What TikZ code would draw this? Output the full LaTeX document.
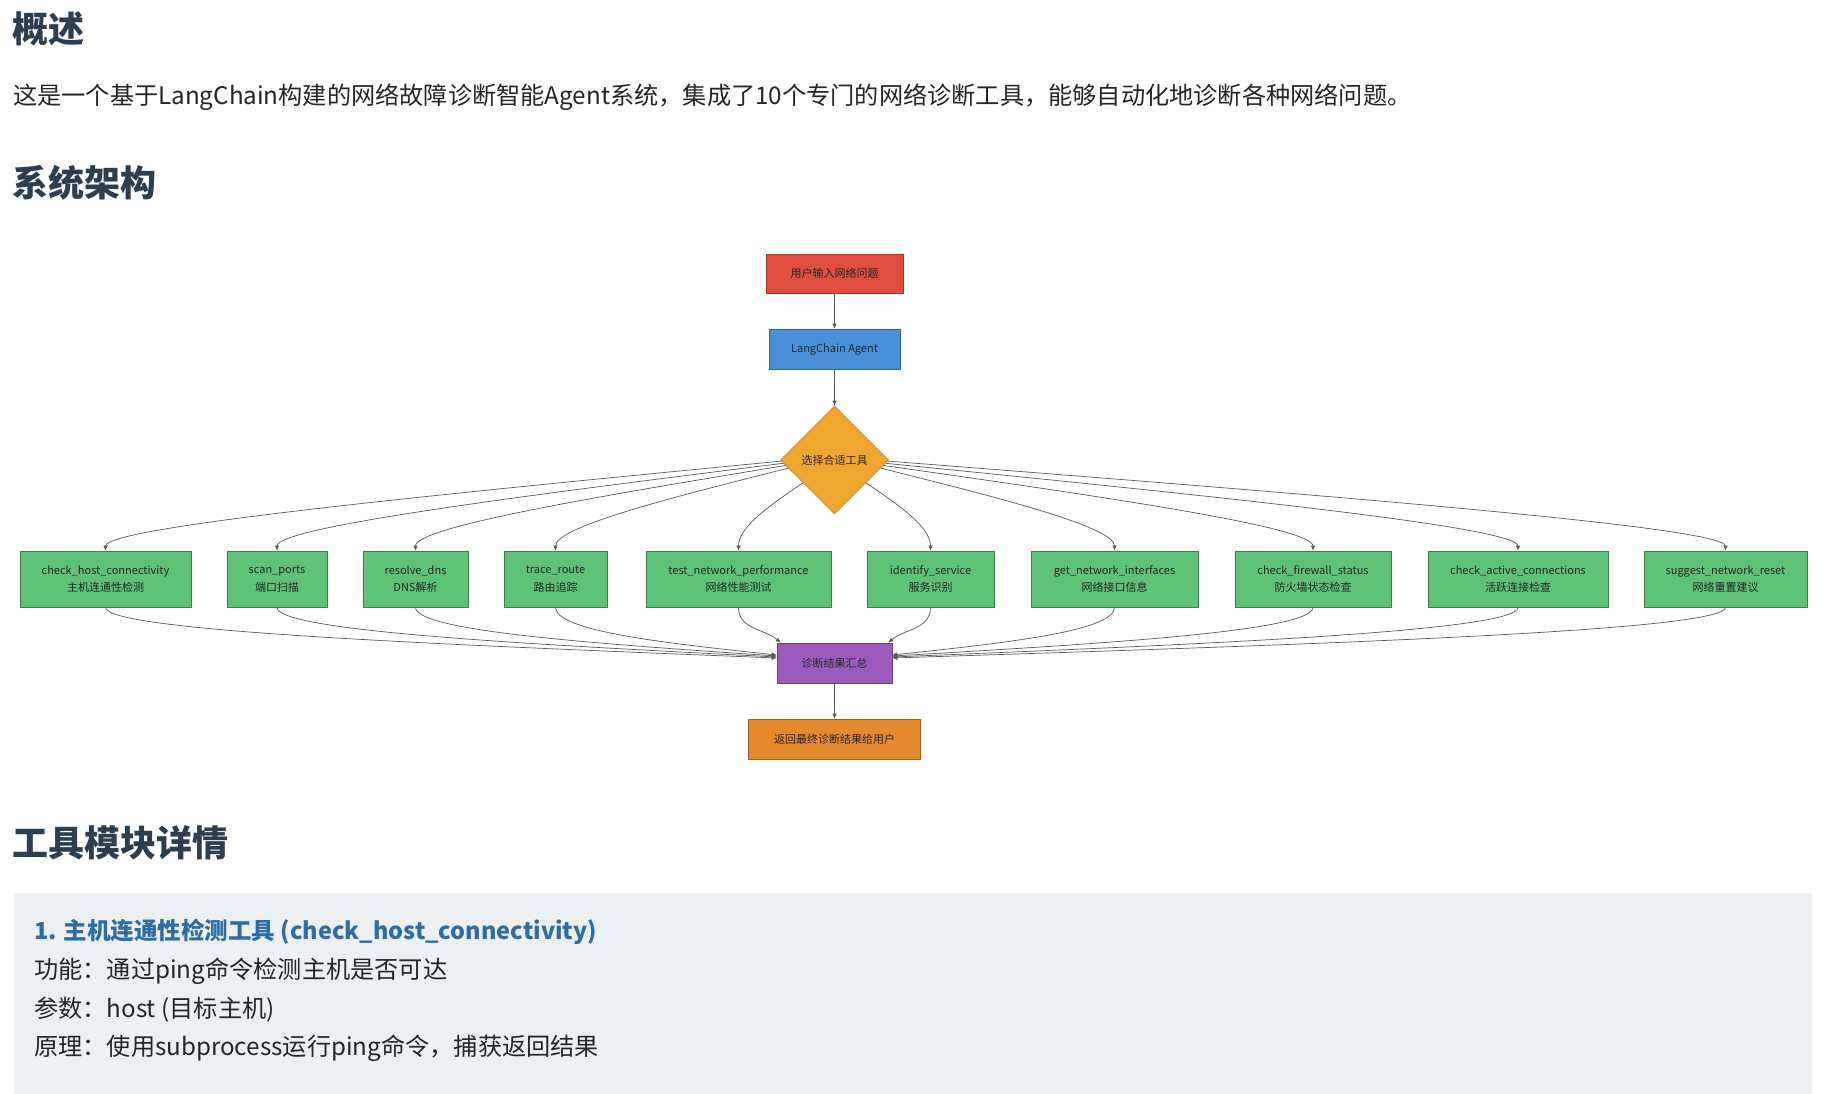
\documentclass[tikz,border=0pt]{standalone}
\usepackage{fontspec}
\setmainfont{Noto Sans CJK SC}
\usetikzlibrary{shapes.geometric,arrows.meta,calc}

\definecolor{headc}{HTML}{2C3E50}
\definecolor{textc}{HTML}{252525}
\definecolor{titlec}{HTML}{2E6DA4}
\definecolor{panelc}{HTML}{EDF0F3}
\definecolor{redc}{HTML}{E04E3F}
\definecolor{bluec}{HTML}{4A8FD9}
\definecolor{yellowc}{HTML}{F0A732}
\definecolor{greenc}{HTML}{5EC277}
\definecolor{purplec}{HTML}{9B5BBE}
\definecolor{orangec}{HTML}{E58A2E}

\tikzset{
  heading/.style={anchor=west, inner sep=0pt, text=headc, font=\fontsize{36}{42}\selectfont\bfseries},
  bodytext/.style={anchor=west, inner sep=0pt, text=textc, font=\fontsize{24.2}{29}\selectfont},
  nodebox/.style={draw, line width=0.6pt, inner sep=2pt, text=textc, align=center, font=\fontsize{11}{13}\selectfont},
  inbox/.style={nodebox, fill=redc, draw=redc!70!black, minimum width=137pt, minimum height=39pt},
  agentbox/.style={nodebox, fill=bluec, draw=bluec!70!black, minimum width=131pt, minimum height=40pt},
  decide/.style={nodebox, diamond, aspect=1, inner sep=0pt, fill=yellowc, draw=yellowc!80!black, minimum width=108pt, minimum height=108pt},
  toolbox/.style={nodebox, fill=greenc, draw=greenc!65!black, minimum height=56pt, font=\fontsize{11}{17.5}\selectfont},
  sumbox/.style={nodebox, fill=purplec, draw=purplec!70!black, minimum width=115pt, minimum height=40pt},
  outbox/.style={nodebox, fill=orangec, draw=orangec!70!black, minimum width=172pt, minimum height=40pt},
  flow/.style={draw=black!65, line width=0.7pt, -{Latex[length=5pt,width=4.5pt]}}
}

\begin{document}
\begin{tikzpicture}[x=1pt, y=-1pt]
	\useasboundingbox (0,0) rectangle (1826,1094);
	\fill[white] (0,0) rectangle (1826,1094);

	% --- page text above the chart ---
	\node[heading] (h1) at (12,29) {概述};
	\node[bodytext] (intro) at (13,97) {这是一个基于LangChain构建的网络故障诊断智能Agent系统，集成了10个专门的网络诊断工具，能够自动化地诊断各种网络问题。};
	\node[heading] (h2) at (12,183) {系统架构};

	% --- main flow ---
	\node[inbox] (inp) at (834.5,273.5) {用户输入网络问题};
	\node[agentbox] (agent) at (834.5,349) {LangChain Agent};
	\node[decide] (sel) at (834.5,460) {选择合适工具};
	\node[sumbox] (sum) at (834.5,663) {诊断结果汇总};
	\node[outbox] (out) at (834.5,739) {返回最终诊断结果给用户};

	% --- tool boxes ---
	\foreach \cx/\w/\txt [count=\i] in {
		105.5/171/{check\_host\_connectivity\\主机连通性检测},
		277/100/{scan\_ports\\端口扫描},
		415.5/105/{resolve\_dns\\DNS解析},
		555.5/103/{trace\_route\\路由追踪},
		738.5/185/{test\_network\_performance\\网络性能测试},
		930.5/127/{identify\_service\\服务识别},
		1114.5/167/{get\_network\_interfaces\\网络接口信息},
		1313/156/{check\_firewall\_status\\防火墙状态检查},
		1518/180/{check\_active\_connections\\活跃连接检查},
		1725.5/163/{suggest\_network\_reset\\网络重置建议}} {
		\node[toolbox, minimum width=\w pt] (t\i) at (\cx,579) {\txt};
	}

	% --- straight links ---
	\draw[flow] (inp) -- (agent);
	\draw[flow] (agent) -- (sel);
	\draw[flow] (sum) -- (out);

	% --- diamond to tools ---
	\foreach \i/\t in {1/0.02, 2/0.06, 3/0.10, 4/0.15, 5/0.42} {
		\coordinate (s) at ($(sel.west)!\t!(sel.south)$);
		\coordinate (b) at ($(t\i.north)+(0,-24)$);
		\draw[flow] (s) .. controls ($(s)!0.5!(b)$) and (b) .. (t\i.north);
	}
	\foreach \i/\t in {6/0.42, 7/0.15, 8/0.10, 9/0.06, 10/0.02} {
		\coordinate (s) at ($(sel.east)!\t!(sel.south)$);
		\coordinate (b) at ($(t\i.north)+(0,-24)$);
		\draw[flow] (s) .. controls ($(s)!0.5!(b)$) and (b) .. (t\i.north);
	}

	% --- tools to summary ---
	\foreach \i/\o in {1/5, 2/6, 3/7, 4/8} {
		\coordinate (a) at ($(t\i.south)+(0,24)$);
		\coordinate (e) at ($(sum.west)+(0,-\o)$);
		\draw[flow] (t\i.south) .. controls (a) and ($(a)!0.5!(e)$) .. (e);
	}
	\foreach \i/\o in {7/8, 8/7, 9/6, 10/5} {
		\coordinate (a) at ($(t\i.south)+(0,24)$);
		\coordinate (e) at ($(sum.east)+(0,-\o)$);
		\draw[flow] (t\i.south) .. controls (a) and ($(a)!0.5!(e)$) .. (e);
	}
	\coordinate (e5) at ($(sum.north west)+(4,0)$);
	\coordinate (e6) at ($(sum.north east)+(-4,0)$);
	\draw[flow] (t5.south) .. controls +(0,22) and ($(t5.south)!0.6!(e5)$) .. (e5);
	\draw[flow] (t6.south) .. controls +(0,22) and ($(t6.south)!0.6!(e6)$) .. (e6);

	% --- tool details panel ---
	\node[heading] (h3) at (12,843) {工具模块详情};
	\fill[panelc] (14,893) rectangle (1812,1094);
	\node[bodytext, text=titlec, font=\fontsize{23.5}{28}\selectfont\bfseries] (tool1) at (34,932) {1. 主机连通性检测工具 (check\_host\_connectivity)};
	\node[bodytext] (func) at (34,971) {功能：通过ping命令检测主机是否可达};
	\node[bodytext] (param) at (34,1010) {参数：host (目标主机)};
	\node[bodytext] (prin) at (34,1048) {原理：使用subprocess运行ping命令，捕获返回结果};
\end{tikzpicture}
\end{document}
